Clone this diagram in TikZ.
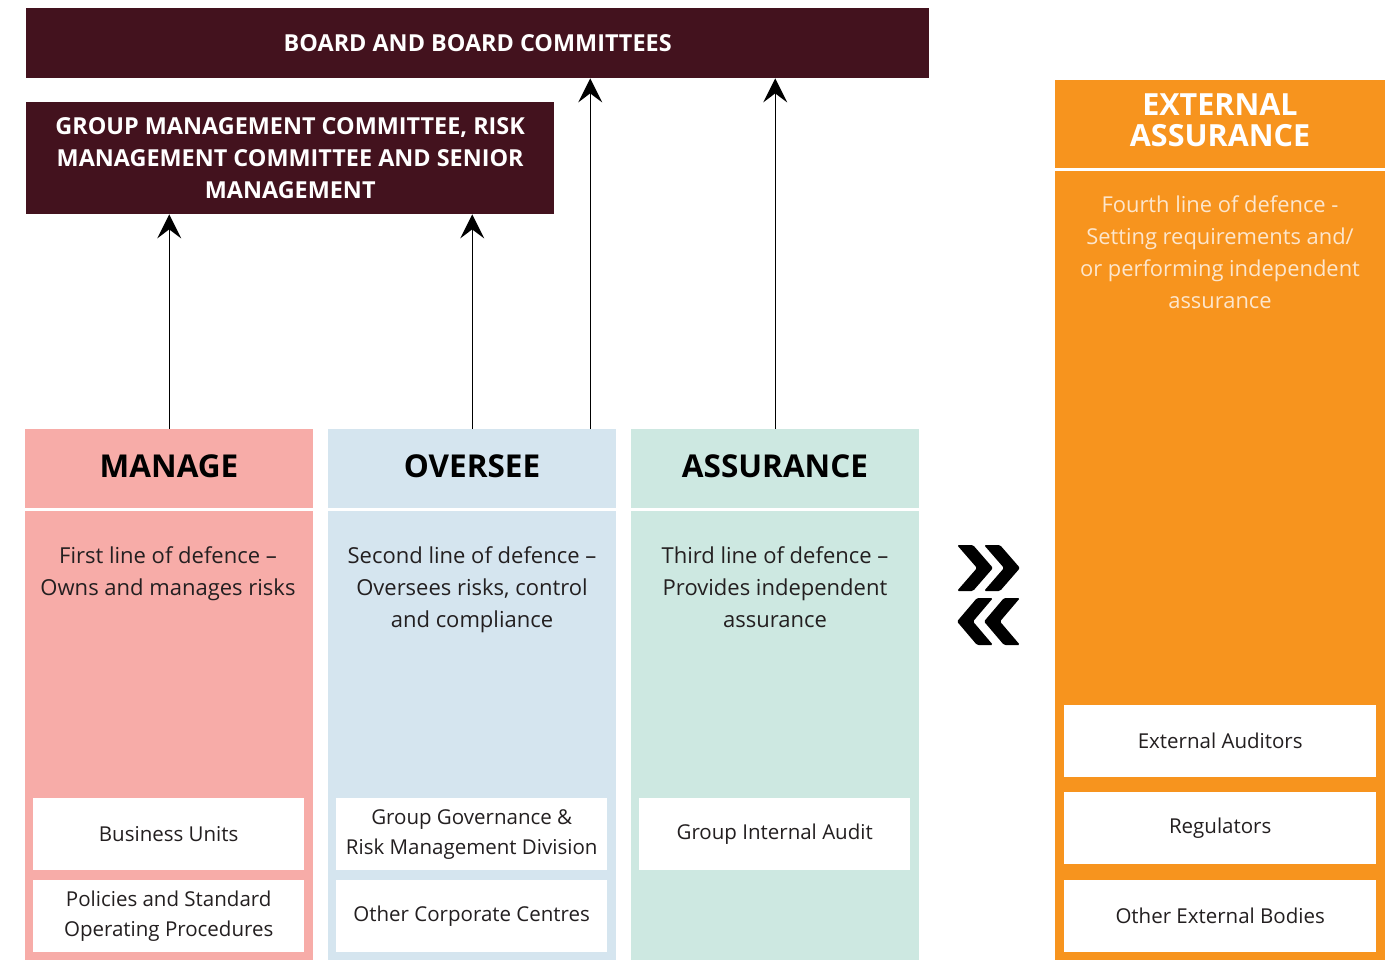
\documentclass[tikz,border=0pt]{standalone}
\usepackage{fontspec}
\setmainfont{Open Sans}
\usetikzlibrary{arrows.meta,positioning}
\definecolor{maroon}{HTML}{43121E}
\definecolor{pinkc}{HTML}{F7ACA8}
\definecolor{bluec}{HTML}{D5E5EF}
\definecolor{mintc}{HTML}{CDE8E1}
\definecolor{orangec}{HTML}{F7941E}
\definecolor{creamc}{HTML}{FDE6CC}
\definecolor{txt}{HTML}{231F20}
\tikzset{
  darkbox/.style={fill=maroon, inner sep=0pt, anchor=north west, text=white, align=center,
    font=\fontsize{23.4}{32}\selectfont\bfseries},
  colbox/.style={inner sep=0pt, anchor=north west, minimum width=288pt, minimum height=531pt},
  headtxt/.style={font=\fontsize{31.5}{32}\selectfont\bfseries, text=black},
  bodytxt/.style={font=\fontsize{22}{32}\selectfont, text=txt, align=center, anchor=north},
  whitebox/.style={fill=white, inner sep=0pt, anchor=north west, minimum width=271pt, minimum height=72pt,
    align=center, font=\fontsize{20.5}{30}\selectfont, text=txt},
  upar/.style={-{Stealth[length=24pt,width=24pt,inset=9pt]}, line width=1.4pt, black},
  chev/.style={fill=black, rounded corners=1.5pt}
}
\begin{document}
\begin{tikzpicture}[x=1pt,y=-1pt]
\useasboundingbox (0,0) rectangle (1395,960);

% top boxes
\node[darkbox, minimum width=903pt, minimum height=70pt] (board) at (26,8) {BOARD AND BOARD COMMITTEES};
\node[darkbox, minimum width=528pt, minimum height=112pt] (gmc) at (26,102)
  {GROUP MANAGEMENT COMMITTEE, RISK\\MANAGEMENT COMMITTEE AND SENIOR\\MANAGEMENT};

% columns
\node[colbox, fill=pinkc] (manage) at (25,429) {};
\node[colbox, fill=bluec] (oversee) at (328,429) {};
\node[colbox, fill=mintc] (assur) at (631,429) {};
\foreach \c in {manage,oversee,assur}{
  \fill[white] (\c.north west) ++(0,79) rectangle ++(288,3);
}
\node[headtxt] (mh) at (169,466) {MANAGE};
\node[headtxt] (oh) at (472,466) {OVERSEE};
\node[headtxt] (ah) at (775,466) {ASSURANCE};

\node[bodytxt] (mb) at (168,543) {First line of defence –\\Owns and manages risks};
\node[bodytxt] (ob) at (472,543) {Second line of defence –\\Oversees risks, control\\and compliance};
\node[bodytxt] (ab) at (775,543) {Third line of defence –\\Provides independent\\assurance};

\node[whitebox] (bu) at (33,798) {Business Units};
\node[whitebox] (pol) at (33,880) {Policies and Standard\\Operating Procedures};
\node[whitebox] (ggr) at (336,798) {Group Governance \&\\Risk Management Division};
\node[whitebox] (occ) at (336,880) {Other Corporate Centres};
\node[whitebox] (gia) at (639,798) {Group Internal Audit};

% external column
\node[inner sep=0pt, anchor=north west, minimum width=330pt, minimum height=880pt, fill=orangec] (ext) at (1055,80) {};
\fill[white] (ext.north west) ++(0,88) rectangle ++(330,3);
\node[text=white, align=center, font=\fontsize{30.5}{31}\selectfont\bfseries] (eh) at (1220,120) {EXTERNAL\\ASSURANCE};
\node[anchor=north, text=creamc, align=center, font=\fontsize{21.9}{32}\selectfont] (eb) at (1220,192)
  {Fourth line of defence -\\Setting requirements and/\\or performing independent\\assurance};
\node[whitebox, minimum width=312pt] (ea) at (1064,705) {External Auditors};
\node[whitebox, minimum width=312pt] (reg) at (1064,792) {Regulators};
\node[whitebox, minimum width=312pt] (oeb) at (1064,880) {Other External Bodies};

% arrows
\draw[upar] (manage.north) -- (manage.north |- gmc.south);
\draw[upar] (oversee.north) -- (oversee.north |- gmc.south);
\coordinate (o2) at ([xshift=118pt]oversee.north);
\draw[upar] (o2) -- (o2 |- board.south);
\draw[upar] (assur.north) -- (assur.north |- board.south);

% chevrons
\fill[chev] (957,545) -- (973,545) -- (993,568) -- (973,591) -- (957,591) -- (977,568) -- cycle;
\fill[chev] (984,545) -- (1000,545) -- (1020,568) -- (1000,591) -- (984,591) -- (1004,568) -- cycle;
\fill[chev] (1020,598) -- (1004,598) -- (984,621.5) -- (1004,645) -- (1020,645) -- (1000,621.5) -- cycle;
\fill[chev] (993,598) -- (977,598) -- (957,621.5) -- (977,645) -- (993,645) -- (973,621.5) -- cycle;
\end{tikzpicture}
\end{document}
